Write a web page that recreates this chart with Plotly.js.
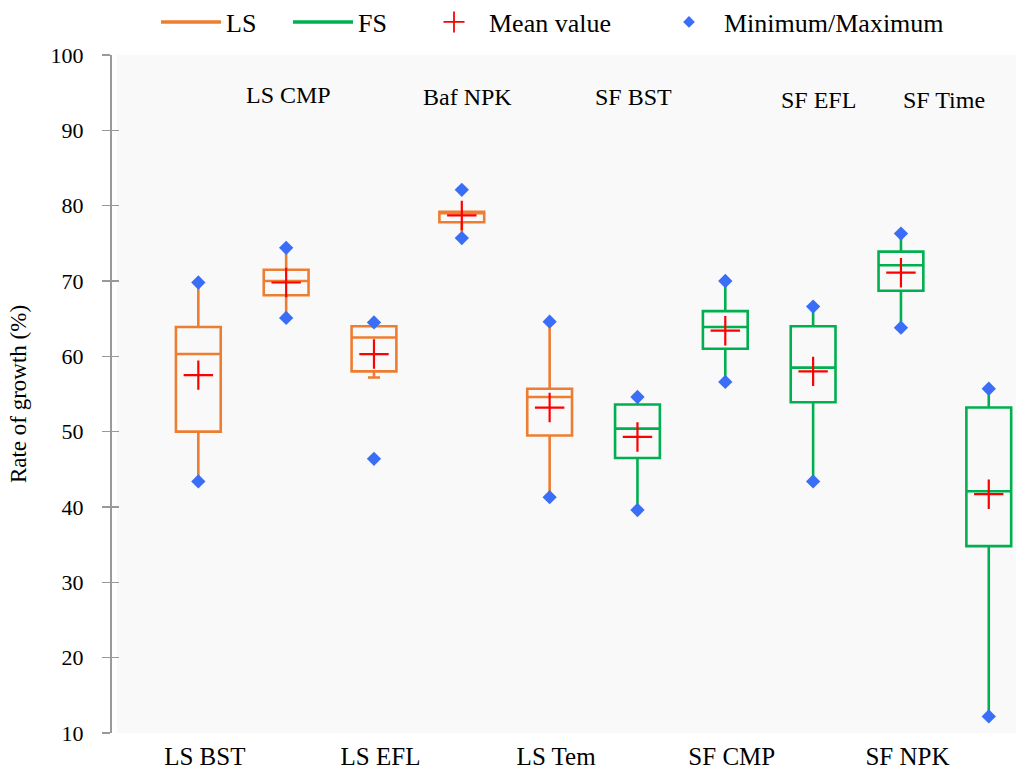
<!DOCTYPE html>
<html>
<head>
<meta charset="utf-8">
<script src="https://cdn.plot.ly/plotly-3.0.1.min.js"></script>
<style>html,body{margin:0;padding:0;background:#fff;}#chart{width:1016px;height:770px;}</style>
</head>
<body>
<div id="chart"></div>
<script>
// ---- data ----
const categories = ['LS BST','LS CMP','LS EFL','Baf NPK','LS Tem','SF BST','SF CMP','SF EFL','SF NPK','SF Time'];
const groups     = ['LS','LS','LS','LS','LS','FS','FS','FS','FS','FS'];
const q1         = [50.0, 68.1, 58.0, 77.8, 49.5, 46.5, 61.0, 53.9, 68.7, 34.8];
const median     = [60.3, 70.0, 62.5, 79.0, 54.6, 50.4, 63.9, 58.5, 72.1, 42.1];
const q3         = [63.9, 71.5, 64.0, 79.2, 55.7, 53.6, 66.0, 64.0, 73.9, 53.2];
const lowerWhisk = [43.4, 65.1, 57.2, 75.7, 41.3, 39.6, 56.6, 43.4, 63.8, 12.2];
const upperWhisk = [69.8, 74.4, 64.5, 79.2, 64.6, 54.6, 70.0, 66.6, 76.3, 55.7];
const meanVals   = [57.5, 69.8, 60.3, 78.7, 53.2, 49.3, 63.4, 58.0, 71.1, 41.7];
const minVals    = [43.4, 65.1, 46.4, 75.7, 41.3, 39.6, 56.6, 43.4, 63.8, 12.2];
const maxVals    = [69.8, 74.4, 64.5, 82.1, 64.6, 54.6, 70.0, 66.6, 76.3, 55.7];
const bottomLabels = ['LS BST','LS EFL','LS Tem','SF CMP','SF NPK'];
const topLabels    = ['LS CMP','Baf NPK','SF BST','SF EFL','SF Time'];
const yTicks = [10,20,30,40,50,60,70,80,90,100];

const colors = {LS:'#ED7D31', FS:'#00B050'};
const FONT = 'Liberation Serif';

const traces = [];
categories.forEach((c,i)=>{
  traces.push({
    type:'box', name:c, x:[i], q1:[q1[i]], median:[median[i]], q3:[q3[i]],
    lowerfence:[lowerWhisk[i]], upperfence:[upperWhisk[i]],
    width:0.51, boxpoints:false, whiskerwidth: (lowerWhisk[i] > minVals[i] ? 0.27 : 0),
    line:{color:colors[groups[i]], width:2.6}, fillcolor:'rgba(0,0,0,0)',
    showlegend:false, hoverinfo:'skip'
  });
});
const xs = categories.map((c,i)=>i);
// min / max diamonds
traces.push({
  type:'scatter', mode:'markers', name:'Minimum/Maximum',
  x: xs.concat(xs), y: minVals.concat(maxVals),
  marker:{symbol:'diamond', size:11, color:'#3A6EF7'}, showlegend:false, hoverinfo:'skip'
});
// means
traces.push({
  type:'scatter', mode:'markers', name:'Mean value',
  x: xs, y: meanVals,
  marker:{symbol:'cross-thin', size:21, color:'#FF0000', line:{color:'#FF0000', width:2.2}},
  showlegend:false, hoverinfo:'skip'
});
// legend entries (each in its own legend so the spacing can match)
traces.push({type:'scatter', mode:'lines', name:'LS', x:[null], y:[null], legend:'legend',
  line:{color:colors.LS, width:3.5}});
traces.push({type:'scatter', mode:'lines', name:'FS', x:[null], y:[null], legend:'legend2',
  line:{color:colors.FS, width:3.5}});
traces.push({type:'scatter', mode:'markers', name:'Mean value', x:[null], y:[null], legend:'legend3',
  marker:{symbol:'cross-thin', size:15, color:'#FF0000', line:{color:'#FF0000', width:1.8}}});
traces.push({type:'scatter', mode:'markers', name:'Minimum/Maximum', x:[null], y:[null], legend:'legend4',
  marker:{symbol:'diamond', size:9, color:'#3A6EF7'}});

const topX = [1.03, 3.07, 4.96, 7.06, 8.49];
const topY = [94.7, 94.4, 94.4, 94.0, 94.0];
const annotations = topLabels.map((t,k)=>({
  x: topX[k], y: topY[k], xref:'x', yref:'y', text:t, showarrow:false,
  font:{family:FONT, size:24, color:'#000'}, xanchor:'center', yanchor:'middle'
}));

function leg(xpx){
  return {orientation:'h', xref:'container', x:xpx/1016, yref:'container', y:1-22/770,
    yanchor:'middle', xanchor:'left', font:{family:FONT, size:26, color:'#000'},
    itemwidth:60, bgcolor:'rgba(0,0,0,0)', borderwidth:0};
}

const layout = {
  width:1016, height:770,
  margin:{l:110, r:0, t:55, b:37},
  paper_bgcolor:'#ffffff', plot_bgcolor:'#F9F9F9',
  font:{family:FONT, size:22, color:'#000'},
  xaxis:{
    domain:[7/906, 1], range:[-0.926, 9.31], showgrid:false, zeroline:false, showline:false,
    tickmode:'array', tickvals:[0.074, 2.074, 4.074, 6.074, 8.074], ticktext:bottomLabels,
    ticks:'outside', ticklen:1, tickcolor:'rgba(0,0,0,0)',
    tickfont:{family:FONT, size:25, color:'#000'}, fixedrange:true
  },
  yaxis:{
    range:[10,100], anchor:'free', position:0, showgrid:false, zeroline:false,
    showline:true, linecolor:'#999', linewidth:1.5,
    tickmode:'array', tickvals:yTicks, ticks:'outside', ticklen:8, tickcolor:'#999', tickwidth:1.5,
    ticklabelstandoff:14,
    tickfont:{family:FONT, size:22, color:'#000'},
    title:{text:'Rate of growth (%)', font:{family:FONT, size:23, color:'#000'}, standoff:16}
  },
  yaxis2:{
    range:[10,100], overlaying:'y', anchor:'free', position:0, side:'left',
    showgrid:false, zeroline:false, showline:false, showticklabels:false,
    tickmode:'array', tickvals:yTicks, ticks:'inside', ticklen:8, tickcolor:'#999', tickwidth:1.5
  },
  legend: leg(156),
  legend2: leg(288),
  legend3: leg(419),
  legend4: leg(654),
  annotations: annotations,
  showlegend:true
};

// axis-activating trace for the overlay axis carrying the inner tick marks
traces.push({type:'scatter', x:[null], y:[null], yaxis:'y2', showlegend:false, hoverinfo:'skip'});

Plotly.newPlot('chart', traces, layout, {displayModeBar:false, staticPlot:true});
</script>
</body>
</html>
